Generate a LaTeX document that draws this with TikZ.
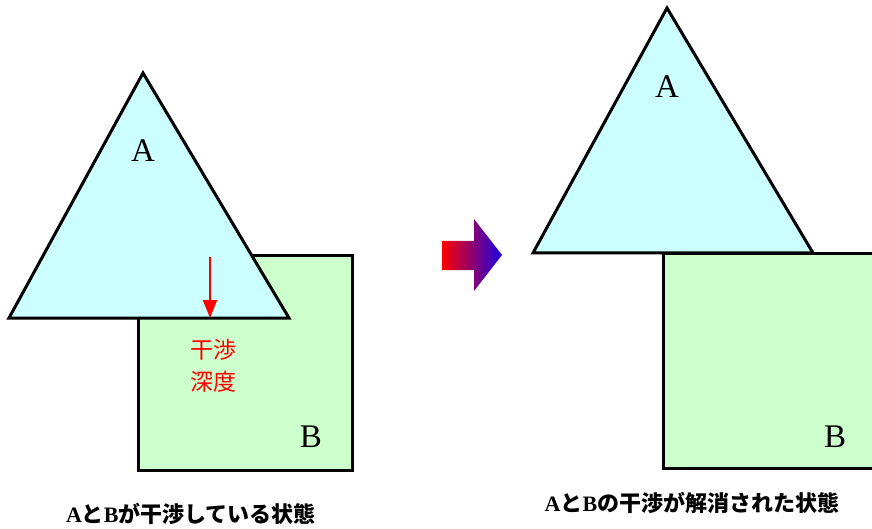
\documentclass[tikz,border=0pt]{standalone}
\usepackage{fontspec}
\setmainfont{Liberation Serif}
\newfontfamily\cjk{Noto Sans CJK JP}
\usetikzlibrary{arrows.meta}
\definecolor{triA}{HTML}{CCFFFF}
\definecolor{sqB}{HTML}{CCFFCC}
\begin{document}
\begin{tikzpicture}[x=1pt,y=-1pt,
  outl/.style={draw=black,line width=3pt,line join=miter},
  lbl/.style={font=\fontsize{33}{33}\selectfont,inner sep=0pt},
  red label/.style={text=red,font=\cjk\fontsize{23}{32}\selectfont,align=center,inner sep=0pt},
  caption/.style={font=\fontsize{22}{24}\selectfont,inner sep=0pt}]
\useasboundingbox (0,0) rectangle (872,529);
\begin{scope}
\clip (0,0) rectangle (872,529);
% left: overlapping
\filldraw[outl,fill=sqB] (138,256) rectangle (352,470);
\filldraw[outl,fill=triA] (143,73) -- (289,318) -- (9,318) -- cycle;
\node[lbl] (A1) at (143,151) {A};
\node[lbl] (B1) at (311,437) {B};
\coordinate (d1) at (210,257);
\coordinate (d2) at (210,318);
\draw[red,line width=2pt,-{Triangle[length=18pt,width=14pt]}] (d1) -- (d2);
\node[red label] (depth) at (213,366) {干渉\\深度};
% middle gradient arrow
\shade[left color=red,right color=blue!90!red]
  (442,241) -- (474,241) -- (474,219) -- (502,255) -- (474,291) -- (474,270) -- (442,270) -- cycle;
% right: separated
\filldraw[outl,fill=triA] (667,8) -- (813,253) -- (533,253) -- cycle;
\filldraw[outl,fill=sqB] (663,254) rectangle (878,468);
\node[lbl] (A2) at (667,87) {A};
\node[lbl] (B2) at (835,437) {B};
\end{scope}
\node[caption] (c1) at (191,514) {\textbf{A}{\cjk\bfseries と}\textbf{B}{\cjk\bfseries が干渉している状態}};
\node[caption] (c2) at (692,503) {\textbf{A}{\cjk\bfseries と}\textbf{B}{\cjk\bfseries の干渉が解消された状態}};
\end{tikzpicture}
\end{document}
